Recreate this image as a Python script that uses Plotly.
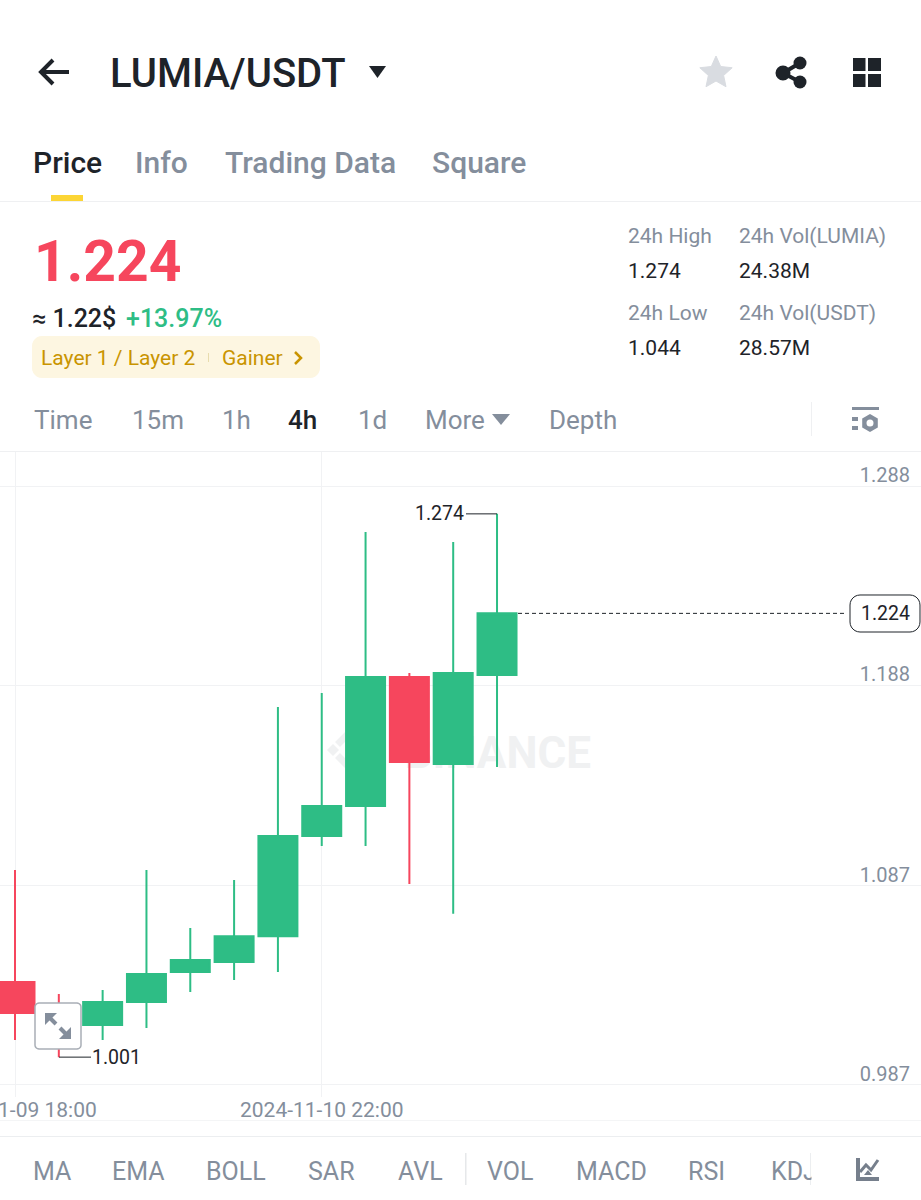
import math
from datetime import datetime, timedelta

import plotly.graph_objects as go

W = 921
H = 1200

# Data
dates = ["2024-11-09 18:00", "2024-11-09 22:00", "2024-11-10 02:00", "2024-11-10 06:00",
         "2024-11-10 10:00", "2024-11-10 14:00", "2024-11-10 18:00", "2024-11-10 22:00",
         "2024-11-11 02:00", "2024-11-11 06:00", "2024-11-11 10:00", "2024-11-11 14:00"]
opens = [1.0388, 1.0232, 1.0172, 1.0287, 1.0438, 1.0488, 1.0618, 1.1121, 1.1272, 1.1920, 1.1483, 1.1930]
highs = [1.0950, 1.0327, 1.0347, 1.0950, 1.0659, 1.0900, 1.1770, 1.1840, 1.2649, 1.1940, 1.2598, 1.2740]
lows = [1.0096, 1.0010, 1.0096, 1.0157, 1.0337, 1.0398, 1.0438, 1.1071, 1.1071, 1.0880, 1.0730, 1.1468]
closes = [1.0232, 1.0167, 1.0287, 1.0428, 1.0498, 1.0618, 1.1121, 1.1272, 1.1920, 1.1493, 1.1940, 1.2240]

price_ticks = [1.288, 1.188, 1.087, 0.987]
date_ticks = ["2024-11-09 18:00", "2024-11-10 22:00"]
last_price = 1.224
high_price = 1.274
low_price = 1.001

tabs = [("Price", 32), ("Info", 134), ("Trading Data", 224), ("Square", 431)]
intervals = [("Time", 33), ("15m", 131), ("1h", 221), ("4h", 287), ("1d", 357), ("More", 424), ("Depth", 548)]
indicators = [("MA", 32), ("EMA", 111), ("BOLL", 205), ("SAR", 307), ("AVL", 397),
              ("VOL", 486), ("MACD", 575), ("RSI", 687), ("KDJ", 770)]
stats = [("24h High", "1.274", 627, 236), ("24h Vol(LUMIA)", "24.38M", 738, 236),
         ("24h Low", "1.044", 627, 313), ("24h Vol(USDT)", "28.57M", 738, 313)]

GREEN = "#2ebd85"
RED = "#f6465d"
DARK = "#1e2329"
GRAY = "#848e9c"
GRID = "#f1f2f4"
WATERMARK = "#f0f1f2"
FONT = "Roboto"


def px(x):
    return x / W


def py(y):
    return 1 - y / H


annotations = []
shapes = []


def text(x, y, s, size, color, weight=400, anchor="left"):
    annotations.append(dict(x=px(x), y=py(y), xref="paper", yref="paper", text=s, showarrow=False,
                            xanchor=anchor, yanchor="middle", borderpad=0,
                            font=dict(family=FONT, size=size, color=color, weight=weight)))


def path(points, fill=None, line=None, width=0, close=True, layer="above"):
    d = "M " + " L ".join(f"{px(a):.5f},{py(b):.5f}" for a, b in points)
    if close:
        d += " Z"
    shapes.append(dict(type="path", path=d, xref="paper", yref="paper", fillcolor=fill or "rgba(0,0,0,0)",
                       line=dict(color=line or "rgba(0,0,0,0)", width=width), layer=layer))


def rect(x0, y0, x1, y1, fill, layer="above"):
    shapes.append(dict(type="rect", x0=px(x0), x1=px(x1), y0=py(y0), y1=py(y1), xref="paper", yref="paper",
                       fillcolor=fill, line=dict(width=0), layer=layer))


def circle(cx, cy, r, fill):
    shapes.append(dict(type="circle", x0=px(cx - r), x1=px(cx + r), y0=py(cy - r), y1=py(cy + r), xref="paper",
                       yref="paper", fillcolor=fill, line=dict(width=0), layer="above"))


def round_rect(x0, y0, x1, y1, r, fill, line=None, width=0):
    pts = []
    for cx, cy, start in [(x1 - r, y0 + r, -90), (x1 - r, y1 - r, 0), (x0 + r, y1 - r, 90), (x0 + r, y0 + r, 180)]:
        for k in range(7):
            a = math.radians(start + k * 15)
            pts.append((cx + r * math.cos(a), cy + r * math.sin(a)))
    path(pts, fill=fill, line=line, width=width)


# header
path([(69, 72), (41, 72)], line=DARK, width=4, close=False)
path([(53, 60), (41, 72), (53, 84)], line=DARK, width=4, close=False)
text(109, 74, "LUMIA/USDT", 40, DARK, 500)
path([(369, 66), (386, 66), (377.5, 78)], fill=DARK)
star = []
for k in range(10):
    r = 17 if k % 2 == 0 else 8
    a = math.radians(-90 + 36 * k)
    star.append((716 + r * math.cos(a), 73 + r * math.sin(a)))
path(star, fill="#d9dce1", line="#d9dce1", width=1)
path([(800, 63), (783, 73), (800, 82)], line=DARK, width=4, close=False)
circle(783, 73, 7.5, DARK)
circle(800, 63, 6.5, DARK)
circle(800, 82, 6.5, DARK)
rect(853, 58, 865.5, 71, DARK)
rect(868, 58, 881, 71, DARK)
rect(853, 74, 865.5, 87, DARK)
rect(868, 74, 881, 87, DARK)

# tabs
for i, (name, x) in enumerate(tabs):
    text(x, 162, name, 30, DARK if i == 0 else GRAY, 500)
rect(51, 195, 83, 201, "#fcd535")
rect(0, 201, W, 202, "#eff0f2")

# price block
text(33, 262, "1.224", 57, RED, 700)
text(31, 318, "≈ 1.22$", 25, DARK, 500)
text(125, 318, "+13.97%", 25, GREEN, 500)
round_rect(32, 336, 320, 378, 10, "#fdf6e1")
text(40, 358, "Layer 1 / Layer 2", 21, "#c99400")
rect(208, 353, 209, 362, "#e8dcae")
text(221, 358, "Gainer", 21, "#c99400")
path([(295, 352), (301, 358), (295, 364)], line="#c99400", width=2.5, close=False)
for label, value, x, y in stats:
    text(x, y, label, 21, GRAY)
    text(x, y + 35, value, 21, DARK)

# interval row
for name, x in intervals:
    text(x, 420, name, 26, DARK if name == "4h" else GRAY, 500 if name == "4h" else 400)
path([(492, 414), (510, 414), (501, 425)], fill=GRAY)
rect(811, 402, 812, 436, "#eff0f2")
rect(852, 407, 879, 410, GRAY)
rect(852, 417, 858, 421, GRAY)
rect(852, 426, 858, 430, GRAY)
hexagon = [(870 + 9 * math.cos(math.radians(30 + 60 * k)), 423 + 9 * math.sin(math.radians(30 + 60 * k)))
           for k in range(6)]
path(hexagon, fill=GRAY)
circle(870, 423, 3.5, "white")
rect(0, 451, W, 452, "#eff0f2")

# chart axis mapping: 1.288 sits at y=486 and 0.987 at y=1085
Y_TOP = 451
Y_BOT = 1097
PX_PER_PRICE = 1990.0
y_range = [1.288 - (Y_BOT - 486) / PX_PER_PRICE, 1.288 + (486 - Y_TOP) / PX_PER_PRICE]
STEP_PX = 43.82
t0 = datetime.strptime(dates[0], "%Y-%m-%d %H:%M")
hours_per_px = 4 / STEP_PX
x_range = [t0 - timedelta(hours=15 * hours_per_px), t0 + timedelta(hours=(W - 15) * hours_per_px)]

fig = go.Figure(go.Candlestick(
    x=dates, open=opens, high=highs, low=lows, close=closes,
    whiskerwidth=0,
    increasing=dict(line=dict(color=GREEN, width=2), fillcolor=GREEN),
    decreasing=dict(line=dict(color=RED, width=2), fillcolor=RED),
))

# watermark sits under the candles
shapes.append(dict(type="rect", x0=px(368), x1=px(597), y0=py(725), y1=py(775), xref="paper", yref="paper",
                   fillcolor="rgba(0,0,0,0)", line=dict(width=0), layer="below",
                   label=dict(text="BINANCE", textposition="middle right",
                              font=dict(family=FONT, size=44, color=WATERMARK, weight=700))))
path([(333, 744), (339, 750), (333, 756), (327, 750)], fill=WATERMARK, layer="below")
path([(346, 731), (357, 742), (352, 747), (346, 741), (340, 747), (335, 742)], fill=WATERMARK, layer="below")
path([(346, 769), (357, 758), (352, 753), (346, 759), (340, 753), (335, 758)], fill=WATERMARK, layer="below")

# last price, high and low markers
shapes.append(dict(type="line", xref="paper", yref="y", x0=px(518), x1=px(845), y0=last_price, y1=last_price,
                   line=dict(color=DARK, width=1, dash="4px,3px"), layer="above"))
round_rect(850, 595, 920, 632, 10, "white", line=DARK, width=1)
annotations.append(dict(x=px(885), y=last_price, xref="paper", yref="y", text=f"{last_price:.3f}", showarrow=False,
                        xanchor="center", yanchor="middle", font=dict(family=FONT, size=19.5, color=DARK)))
shapes.append(dict(type="line", xref="paper", yref="y", x0=px(466), x1=px(497), y0=high_price, y1=high_price,
                   line=dict(color=DARK, width=1), layer="above"))
annotations.append(dict(x=px(466), y=high_price, xref="paper", yref="y", text=f"{high_price:.3f}", showarrow=False,
                        xanchor="right", yanchor="middle", font=dict(family=FONT, size=19.5, color=DARK)))
shapes.append(dict(type="line", xref="paper", yref="y", x0=px(59), x1=px(91), y0=low_price, y1=low_price,
                   line=dict(color=DARK, width=1), layer="above"))
annotations.append(dict(x=px(90), y=low_price, xref="paper", yref="y", text=f"{low_price:.3f}", showarrow=False,
                        xanchor="left", yanchor="middle", font=dict(family=FONT, size=19.5, color=DARK)))

# expand button over the candles
round_rect(35, 1003, 81, 1049, 4, "white", line="#a9aeb6", width=1.5)
path([(45, 1013), (57, 1013), (45, 1025)], fill=GRAY)
path([(71, 1039), (59, 1039), (71, 1027)], fill=GRAY)
path([(48, 1016), (56, 1024)], line=GRAY, width=4, close=False)
path([(60, 1028), (68, 1036)], line=GRAY, width=4, close=False)

# bottom bar
rect(0, 1120, W, 1121, "#f4f5f6")
rect(0, 1136, W, 1137, "#eceef0")
for name, x in indicators:
    text(x, 1171, name, 25, GRAY)
annotations.append(dict(x=px(811), y=py(1171), xref="paper", yref="paper", text=" ", showarrow=False, bgcolor="white",
                        xanchor="left", yanchor="middle", width=24, height=34))
rect(465, 1153, 466.5, 1185, "#e6e8ea")
rect(810, 1153, 811, 1185, "#eceef0")
rect(856, 1158, 860, 1181, "#767f8c")
rect(856, 1177, 879, 1181, "#767f8c")
path([(860, 1172), (866, 1165), (871, 1170), (878, 1160)], line="#767f8c", width=3, close=False)
path([(864, 1175), (872, 1175), (868, 1170)], fill="#767f8c")

fig.update_layout(
    width=W, height=H, autosize=False,
    margin=dict(l=0, r=0, t=0, b=0),
    paper_bgcolor="white", plot_bgcolor="white",
    showlegend=False, boxgap=0.11, boxgroupgap=0,
    annotations=annotations, shapes=shapes,
)
fig.update_xaxes(
    domain=[0, 1], range=x_range, type="date", rangeslider_visible=False, automargin=False,
    tickvals=date_ticks, tickformat="%Y-%m-%d %H:%M", ticks="", ticklabeloverflow="allow",
    showgrid=True, gridcolor=GRID, gridwidth=1, zeroline=False, showline=False,
    tickfont=dict(family=FONT, size=21, color=GRAY), ticklabelstandoff=-2,
)
fig.update_yaxes(
    domain=[py(Y_BOT), py(Y_TOP)], range=y_range, side="right", automargin=False,
    tickvals=price_ticks, ticktext=[f"{v:.3f}" for v in price_ticks],
    ticklabelposition="inside top", ticks="", ticklabeloverflow="allow",
    showgrid=True, gridcolor=GRID, gridwidth=1, zeroline=False, showline=False,
    tickfont=dict(family=FONT, size=20, color=GRAY), ticklabelshift=3, ticklabelstandoff=8,
)

fig.write_html("out.html", config=dict(displayModeBar=False), post_script="document.body.style.margin='0';")
